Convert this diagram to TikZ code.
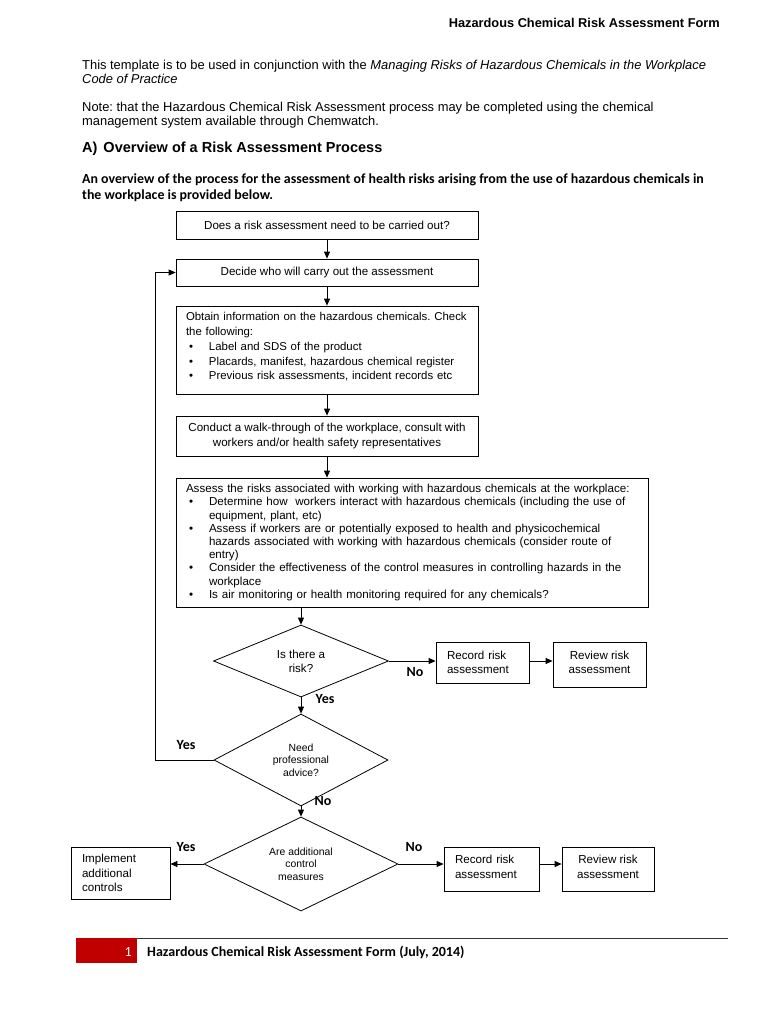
\documentclass[tikz,border=0pt]{standalone}
\usepackage{fontspec}
\setmainfont{Liberation Sans}
\newfontfamily\calib{Carlito}
\usetikzlibrary{arrows.meta,shapes.geometric,calc}
\definecolor{footred}{HTML}{C00000}
\newcommand{\bl}{\hspace*{3pt}\makebox[20pt][l]{\textbullet}}
\newcommand{\ct}{\hspace*{23pt}}
\frenchspacing
\begin{document}
\frenchspacing
\begin{tikzpicture}[x=1pt,y=-1pt,
  box/.style={draw, line width=0.8pt, inner sep=0pt, font=\fontsize{11.6}{14.5}\selectfont, align=center},
  lbox/.style={box, align=left, inner xsep=10pt},
  dia/.style={draw, diamond, aspect=2, line width=0.8pt, inner sep=0pt, font=\fontsize{10.4}{12.5}\selectfont, align=center},
  arr/.style={-{Triangle[length=7pt,width=6pt]}, line width=0.8pt},
  lbl/.style={font=\calib\bfseries\fontsize{14}{16}\selectfont, inner sep=0pt},
  body/.style={anchor=base west, inner sep=0pt, font=\fontsize{12.9}{15}\selectfont},
  sub/.style={anchor=base west, inner sep=0pt, font=\calib\bfseries\fontsize{13.9}{16}\selectfont}]
\useasboundingbox (0,0) rectangle (768,1024);
\fill[white] (0,0) rectangle (768,1024);

% header
\node[anchor=base east, inner sep=0pt, font=\bfseries\fontsize{12.8}{15}\selectfont] (hdr) at (720,27.5) {Hazardous Chemical Risk Assessment Form};

\node[body] (l1) at (82,69.5) {This template is to be used in conjunction with the \textit{Managing Risks of Hazardous Chemicals in the Workplace}};
\node[body] (l2) at (82,84) {\textit{Code of Practice}};
\node[body] (l3) at (82,111.5) {Note: that the Hazardous Chemical Risk Assessment process may be completed using the chemical};
\node[body] (l4) at (82,125.5) {management system available through Chemwatch.};
\node[anchor=base west, inner sep=0pt, font=\bfseries\fontsize{14.5}{17}\selectfont] (sec) at (82,153) {A)\hspace{6pt}Overview of a Risk Assessment Process};
\node[sub] (s1) at (82,183.5) {An overview of the process for the assessment of health risks arising from the use of hazardous chemicals in};
\node[sub] (s2) at (82,199.5) {the workplace is provided below.};

% boxes
\node[box, minimum width=302, minimum height=28] (b1) at (327,225) {Does a risk assessment need to be carried out?};
\node[box, minimum width=302, minimum height=27] (b2) at (327,272.5) {Decide who will carry out the assessment};
\node[lbox, text width=282, minimum height=88, font=\fontsize{11.4}{14.5}\selectfont] (b3) at (327,350) {\mbox{Obtain information on the hazardous chemicals. Check}\\
the following:\\[1pt]
\bl Label and SDS of the product\\
\bl Placards, manifest, hazardous chemical register\\
\bl Previous risk assessments, incident records etc\rule[-8pt]{0pt}{8pt}};
\node[box, minimum width=302, minimum height=40] (b4) at (327,436) {Conduct a walk-through of the workplace, consult with\\workers and/or health safety representatives};
\node[lbox, text width=452, minimum height=129, font=\fontsize{11.6}{13.2}\selectfont] (b5) at (412,542.5) {Assess the risks associated with working with hazardous chemicals at the workplace:\\
\bl Determine how\ \ workers interact with hazardous chemicals (including the use of\\
\ct equipment, plant, etc)\\
\bl Assess if workers are or potentially exposed to health and physicochemical\\
\ct hazards associated with working with hazardous chemicals (consider route of\\
\ct entry)\\
\bl Consider the effectiveness of the control measures in controlling hazards in the\\
\ct workplace\\
\bl Is air monitoring or health monitoring required for any chemicals?};

% decisions
\node[dia, minimum width=175, minimum height=72, font=\fontsize{11.6}{14}\selectfont] (d1) at (301,661) {Is there a\\risk?};
\node[dia, minimum width=174, minimum height=92] (d2) at (301,760) {Need\\professional\\advice?};
\node[dia, minimum width=194, minimum height=94] (d3) at (301,864) {Are additional\\control\\measures};

\node[lbox, inner xsep=11pt, text width=71, minimum height=41] (rec1) at (482.5,662.5) {Record risk\\assessment};
\node[box, minimum width=93, minimum height=45] (rev1) at (599.5,664.5) {Review risk\\assessment\rule[-4pt]{0pt}{4pt}};
\node[lbox, inner xsep=11pt, text width=77, minimum height=52] (imp) at (120.5,873) {Implement\\additional\\controls};
\node[lbox, inner xsep=11pt, text width=73, minimum height=44] (rec2) at (491.5,869) {Record risk\\assessment\rule[-4pt]{0pt}{4pt}};
\node[box, minimum width=92, minimum height=44] (rev2) at (608,869) {Review risk\\assessment\rule[-4pt]{0pt}{4pt}};

% connectors
\draw[arr] (b1.south) -- (b2.north);
\draw[arr] (b2.south) -- (b3.north);
\draw[arr] (b3.south) -- (b4.north);
\draw[arr] (b4.south) -- (b4.south |- b5.north);
\draw[arr] (d1.north |- b5.south) -- (d1.north);
\draw[arr] (d1.east) -- (rec1.west |- d1.east);
\draw[arr] (rec1.east |- d1.east) -- (rev1.west |- d1.east);
\draw[arr] (d1.south) -- (d2.north);
\coordinate (lp) at (155,760);
\draw[arr] (d2.west) -- (lp) |- (b2.west);
\draw[arr] (d2.south) -- (d3.north);
\draw[arr] (d3.west) -- (imp.east |- d3.west);
\draw[arr] (d3.east) -- (rec2.west |- d3.east);
\draw[arr] (rec2.east |- d3.east) -- (rev2.west |- d3.east);

% labels
\node[lbl] (n1) at (415,672) {No};
\node[lbl] (y1) at (325,699) {Yes};
\node[lbl] (y2) at (186,745) {Yes};
\node[lbl] (n2) at (323,801) {No};
\node[lbl] (y3) at (186,847) {Yes};
\node[lbl] (n3) at (414,847) {No};

% footer
\fill[footred] (76,938) rectangle (137,963);
\draw[line width=0.8pt, black!80] (137,938) -- (728,938);
\node[anchor=base east, inner sep=0pt, text=white, font=\calib\fontsize{14}{16}\selectfont] (pg) at (132,956) {1};
\node[anchor=base west, inner sep=0pt, font=\calib\bfseries\fontsize{14}{16}\selectfont] (ft) at (147,956) {Hazardous Chemical Risk Assessment Form (July, 2014)};
\end{tikzpicture}
\end{document}
